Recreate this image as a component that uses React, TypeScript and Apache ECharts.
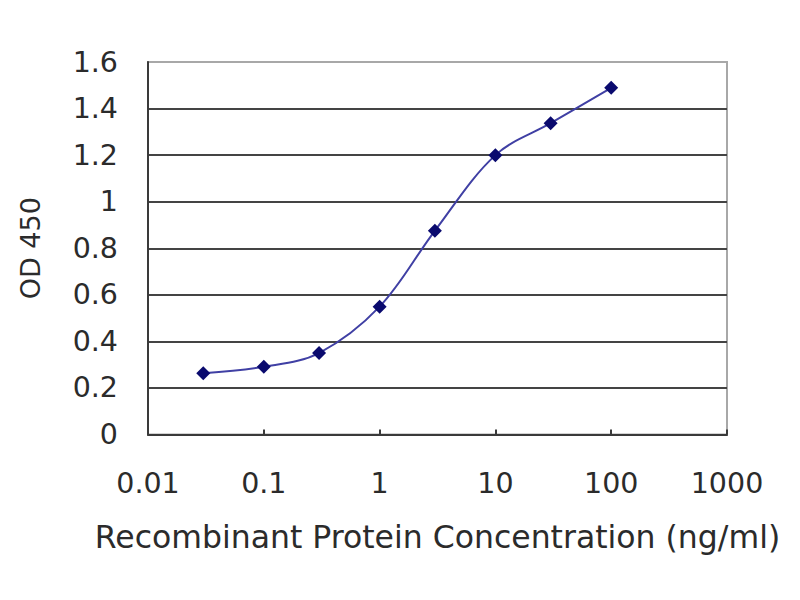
import { useEffect, useRef } from "react";
import * as echarts from "echarts";

const concentrations = [0.03, 0.1, 0.3, 1, 3, 10, 30, 100];
const odValues = [0.263, 0.291, 0.35, 0.549, 0.875, 1.2, 1.337, 1.489];

const FONT = "DejaVu Sans";
const TEXT = "#2b2b2b";

export default function App() {
  const ref = useRef<HTMLDivElement>(null);

  useEffect(() => {
    if (!ref.current) return;
    const chart = echarts.init(ref.current, null, { renderer: "svg" });

    chart.setOption({
      animation: false,
      backgroundColor: "#ffffff",
      grid: {
        left: 148, top: 62, width: 579, height: 372.5,
        show: true, borderColor: "#a8a8a8", borderWidth: 2,
        backgroundColor: "transparent",
      },
      xAxis: {
        type: "log",
        logBase: 10,
        min: 0.01,
        max: 1000,
        name: "Recombinant Protein Concentration (ng/ml)",
        nameLocation: "middle",
        nameGap: 86,
        nameTextStyle: { fontFamily: FONT, fontSize: 31.5, color: TEXT },
        axisLine: { lineStyle: { color: "#3a3a3a", width: 2 } },
        axisTick: { inside: true, length: 5, lineStyle: { color: "#3a3a3a", width: 2 } },
        minorTick: { show: false },
        splitLine: { show: false },
        axisLabel: {
          margin: 34,
          fontFamily: FONT, fontSize: 28.5, color: TEXT,
          formatter: (v: number) => String(+v.toPrecision(3)),
        },
      },
      yAxis: {
        type: "value",
        min: 0,
        max: 1.6,
        interval: 0.2,
        name: "OD 450",
        nameLocation: "middle",
        nameGap: 104,
        nameTextStyle: { fontFamily: FONT, fontSize: 27, color: TEXT },
        axisLine: { show: true, lineStyle: { color: "#3a3a3a", width: 2 } },
        axisTick: { show: false },
        splitLine: { show: true, showMaxLine: false, lineStyle: { color: "#444444", width: 2.2 } },
        axisLabel: {
          margin: 30,
          fontFamily: FONT, fontSize: 28.5, color: TEXT,
          formatter: (v: number) => String(+v.toFixed(1)),
        },
      },
      series: [
        {
          type: "line",
          data: concentrations.map((c, i) => [c, odValues[i]]),
          smooth: 0.35,
          symbol: "diamond",
          symbolSize: 14,
          itemStyle: { color: "#0a0a6e" },
          lineStyle: { color: "#4040a4", width: 2 },
        },
      ],
    });

    return () => chart.dispose();
  }, []);

  return (
    <div
      ref={ref}
      style={{ position: "fixed", left: 0, top: 0, width: 800, height: 600 }}
    />
  );
}
